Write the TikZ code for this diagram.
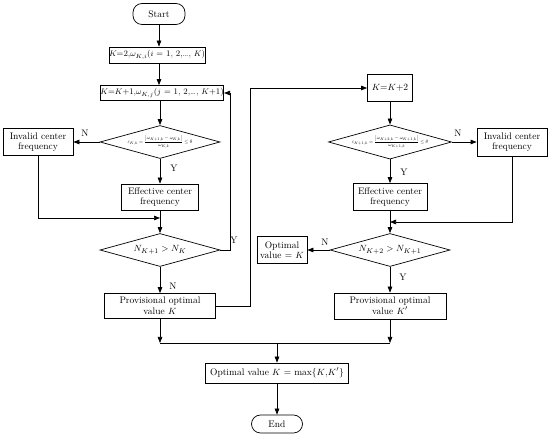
\documentclass[tikz,border=0pt]{standalone}
\usepackage{amsmath}
\usetikzlibrary{shapes.geometric,arrows.meta}
\begin{document}
\begin{tikzpicture}[x=1pt,y=-1pt,
  every path/.style={line width=0.7pt},
  arr/.style={-{Triangle[length=6pt,width=4.5pt]}},
  box/.style={draw,line width=0.7pt,align=center,inner sep=0pt,font=\fontsize{9.5}{10.5}\selectfont},
  term/.style={box,rounded corners=9pt},
  dec/.style={draw,line width=0.7pt,diamond,aspect=3.6,inner sep=0pt,minimum width=120pt,minimum height=33pt,font=\fontsize{9.5}{10.5}\selectfont},
  lbl/.style={font=\fontsize{9.5}{10.5}\selectfont,inner sep=0pt}
]
\useasboundingbox (0,0) rectangle (550,438);

% left column
\node[term,minimum width=52pt,minimum height=21pt] (start) at (159,14) {Start};
\node[box,minimum width=95pt,minimum height=16pt,font=\fontsize{8.5}{10}\selectfont] (b1) at (157,55) {$K$=2,$\omega_{K,i}$($i$ = 1, 2,\ldots, $K$)};
\node[box,minimum width=111pt,minimum height=15pt,font=\fontsize{8.5}{10}\selectfont] (b2) at (162,93) {$K$=$K$+1,$\omega_{K,j}$($j$ = 1, 2,\ldots, $K$+1)};
\node[dec] (d1) at (160,142) {\scalebox{0.55}{$\varepsilon_{K,k}=\dfrac{\left|\omega_{K+1,k}-\omega_{K,k}\right|}{\omega_{K,k}}\leq\theta$}};
\node[box,minimum width=70pt,minimum height=27pt] (inv1) at (38,142) {Invalid center\\frequency};
\node[box,minimum width=77pt,minimum height=26pt] (eff1) at (160,197) {Effective center\\frequency};
\node[dec] (d2) at (160,250) {$N_{K+1} > N_K$};
\node[box,minimum width=111pt,minimum height=25pt] (p1) at (160,306) {Provisional optimal\\value $K$};

% right column
\node[box,minimum width=45pt,minimum height=27pt] (b3) at (390,88) {$K$=$K$+2};
\node[dec] (d3) at (390,142) {\scalebox{0.55}{$\varepsilon_{K+1,k}=\dfrac{\left|\omega_{K+2,k}-\omega_{K+1,k}\right|}{\omega_{K+1,k}}\leq\theta$}};
\node[box,minimum width=70pt,minimum height=28pt] (inv2) at (512,142) {Invalid center\\frequency};
\node[box,minimum width=74pt,minimum height=27pt] (eff2) at (390,197) {Effective center\\frequency};
\node[dec] (d4) at (390,250) {$N_{K+2} > N_{K+1}$};
\node[box,minimum width=50pt,minimum height=27pt] (opt1) at (282,250) {Optimal\\value = $K$};
\node[box,minimum width=112pt,minimum height=26pt] (p2) at (390,306) {Provisional optimal\\value $K'$};

% bottom
\node[box,minimum width=143pt,minimum height=20pt] (fin) at (277,373) {Optimal value $K$ = max\{$K$,$K'$\}};
\node[term,minimum width=51pt,minimum height=18pt] (end) at (277,424) {End};

% helper coordinates
\coordinate (j1) at (160,218);
\coordinate (fb) at (230,93);
\coordinate (c2) at (250,306);
\coordinate (j2) at (390,222);
\coordinate (j3) at (160,343);
\coordinate (j4) at (390,343);
\coordinate (j5) at (277,343);

% connectors left
\draw[arr] (start) -- (start|-b1.north);
\draw[arr] (b1.south-|start) -- (start|-b2.north);
\draw[arr] (b2.south-|d1) -- (d1.north);
\draw[arr] (d1.west) -- (inv1.east);
\node[lbl] at (85,133) {N};
\draw[arr] (d1.south) -- (eff1.north);
\node[lbl] at (174,168) {Y};
\draw[arr] (inv1.south) |- (j1);
\draw[arr] (eff1.south) -- (d2.north);
\draw[arr] (d2.east) -| (fb) -- (b2.east);
\node[lbl] at (234,240) {Y};
\draw[arr] (d2.south) -- (p1.north);
\node[lbl] at (173,286) {N};
\draw[arr] (p1.east) -- (c2) |- (b3.west);

% connectors right
\draw[arr] (b3.south) -- (d3.north);
\draw[arr] (d3.east) -- (inv2.west);
\node[lbl] at (458,133) {N};
\draw[arr] (d3.south) -- (eff2.north);
\node[lbl] at (404,172) {Y};
\draw[arr] (inv2.south) |- (j2);
\draw[arr] (eff2.south) -- (d4.north);
\draw[arr] (d4.west) -- (opt1.east);
\node[lbl] at (325,242) {N};
\draw[arr] (d4.south) -- (p2.north);
\node[lbl] at (403,277) {Y};

% bottom
\draw[arr] (p1.south) -- (j3);
\draw[arr] (p2.south) -- (j4);
\draw (j3) -- (j4);
\draw[arr] (j5) -- (fin.north);
\draw[arr] (fin.south) -- (end.north);
\end{tikzpicture}
\end{document}
